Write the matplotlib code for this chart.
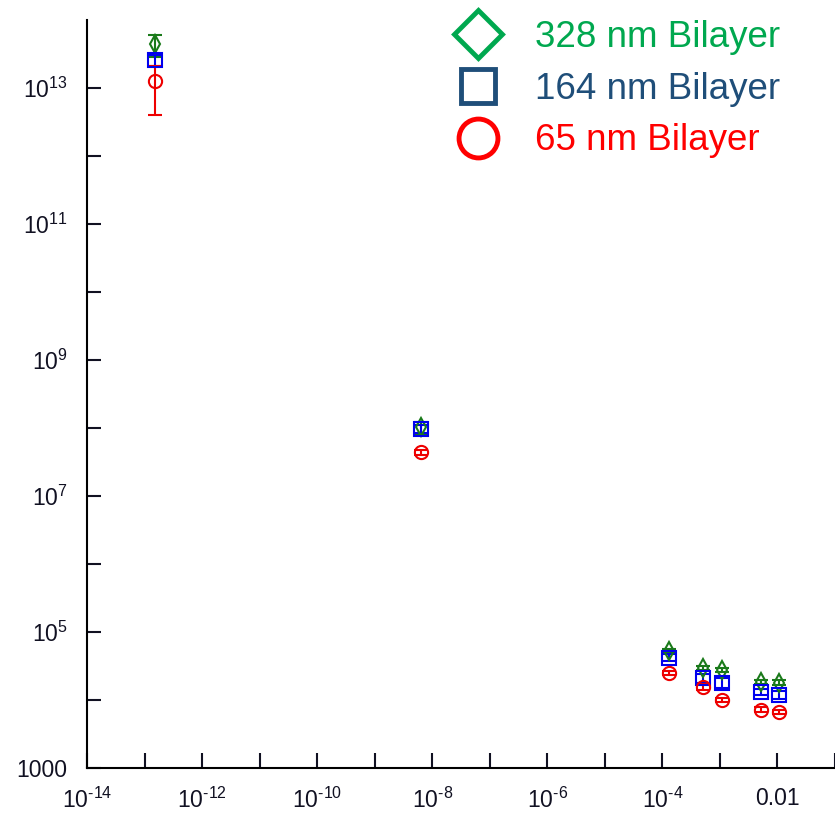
import numpy as np
import matplotlib.pyplot as plt
from matplotlib.lines import Line2D

plt.rcParams['font.family'] = ['Liberation Sans', 'DejaVu Sans']

# Frequency-like x values and measured y values for each bilayer thickness
x = [1.5e-13, 6.5e-9, 1.3e-4, 5.0e-4, 1.1e-3, 5.2e-3, 1.05e-2]

y_328 = [4.45e13, 1.02e8, 5.3e4, 3.0e4, 2.8e4, 1.85e4, 1.8e4]
err_328 = [1.6e13, 2.0e7, 4e3, 2e3, 2e3, 1.5e3, 1.5e3]

y_164 = [2.6e13, 9.7e7, 4.2e4, 2.1e4, 1.8e4, 1.32e4, 1.19e4]
err_164 = [5e12, 1.2e7, 5e3, 3e3, 3e3, 1.5e3, 1.5e3]

y_65 = [1.27e13, 4.4e7, 2.5e4, 1.57e4, 1.0e4, 7.2e3, 6.7e3]
err_65 = [8.7e12, 4e6, 2e3, 1.5e3, 8e2, 6e2, 5e2]

labels = ["328 nm Bilayer", "164 nm Bilayer", "65 nm Bilayer"]

fig = plt.figure(figsize=(8.35, 8.17), dpi=100)
ax = fig.add_axes([87 / 835, 49 / 817, 1 - 87 / 835, 748 / 817])

ax.errorbar(x, y_328, yerr=err_328, fmt='d', ms=9, mfc='none', mec='#1a7a1a',
            mew=1.5, ecolor='#1a7a1a', elinewidth=1.5, capsize=5, capthick=1.5)
ax.errorbar(x, y_164, yerr=err_164, fmt='s', ms=10, mfc='none', mec='#0000ee',
            mew=1.5, ecolor='#0000ee', elinewidth=1.5, capsize=5, capthick=1.5)
ax.errorbar(x, y_65, yerr=err_65, fmt='o', ms=9.5, mfc='none', mec='#ee0000',
            mew=1.5, ecolor='#ee0000', elinewidth=1.5, capsize=5, capthick=1.5)

ax.set_xscale('log')
ax.set_yscale('log')
ax.set_xlim(1e-14, 1e-1)
ax.set_ylim(1e3, 1e14)

for s in ['top', 'right']:
    ax.spines[s].set_visible(False)
for s in ['left', 'bottom']:
    ax.spines[s].set_linewidth(1.5)

# decade ticks, every other one labelled (hyphen instead of a minus sign)
xticks = [10.0 ** e for e in range(-14, 0)]
xlabels = []
for e in range(-14, 0):
    if e == -2:
        xlabels.append('0.01')
    elif e % 2 == 0:
        xlabels.append('$\\mathregular{10^{\u2010%d}}$' % -e)
    else:
        xlabels.append('')
ax.set_xticks(xticks)
ax.set_xticklabels(xlabels)
ax.xaxis.set_minor_locator(plt.NullLocator())

yticks = [10.0 ** e for e in range(3, 14)]
ylabels = []
for e in range(3, 14):
    if e == 3:
        ylabels.append('1000')
    elif e % 2 == 1:
        ylabels.append('$\\mathregular{10^{%d}}$' % e)
    else:
        ylabels.append('')
ax.set_yticks(yticks)
ax.set_yticklabels(ylabels)
ax.yaxis.set_minor_locator(plt.NullLocator())

ax.tick_params(axis='both', direction='in', width=1.5, labelsize=16.5, colors='#111122')
ax.tick_params(axis='x', length=11, pad=14)
ax.tick_params(axis='y', length=10, pad=14)

handles = [
    Line2D([], [], ls='none', marker='D', ms=24, mfc='none', mec='#00a84f', mew=3.5),
    Line2D([], [], ls='none', marker='s', ms=24, mfc='none', mec='#1f4e79', mew=3.5),
    Line2D([], [], ls='none', marker='o', ms=28, mfc='none', mec='#ff0000', mew=3.5),
]
ax.legend(handles, labels, loc='upper left', bbox_to_anchor=(443 / 835, 1.0 - 13 / 817),
          bbox_transform=fig.transFigure, frameon=False, fontsize=26.5,
          labelcolor=['#00a84f', '#1f4e79', '#ff0000'], handlelength=1.5,
          handletextpad=0.8, labelspacing=0.45, borderpad=0.2, borderaxespad=0)

fig.savefig('out.png', dpi=100)
